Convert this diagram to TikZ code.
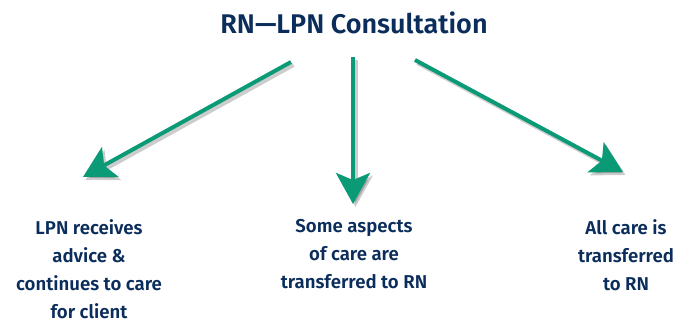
\documentclass[tikz,border=0pt]{standalone}
\usepackage{fontspec}
\setmainfont{Fira Sans}[BoldFont={Fira Sans SemiBold}]
\usepackage{xcolor}
\usetikzlibrary{arrows.meta,calc}
\definecolor{navy}{HTML}{0B2D5B}
\definecolor{teal}{HTML}{0A9A76}

\begin{document}
\begin{tikzpicture}[x=1pt, y=-1pt,
  head/.style={font=\fontsize{27}{30}\selectfont\bfseries, text=navy, inner sep=0pt},
  box/.style={font=\fontsize{18.6}{28}\selectfont\bfseries, text=navy, inner sep=0pt,
              align=center, anchor=north},
  a/.style={-{Stealth[length=31pt, width=34pt, inset=7pt]}, line width=4pt, teal},
  sh/.style={-{Stealth[length=31pt, width=34pt, inset=7pt]}, line width=4pt,
             black, opacity=0.2}]
\useasboundingbox (0,0) rectangle (678,323);

\node[head, anchor=base] (title) at (354,34) {RN---LPN Consultation};

\node[box] (lpn)  at (89,219)  {LPN receives\\advice \&\\continues to care\\for client};
\node[box] (some) at (354,219) {Some aspects\\of care are\\transferred to RN};
\node[box] (all)  at (626,219) {All care is\\transferred\\to RN};

% start and tip of each arrow
\coordinate (s1) at (291,62);  \coordinate (t1) at (83,177);
\coordinate (s2) at (353,57);  \coordinate (t2) at (353,204);
\coordinate (s3) at (415,60);  \coordinate (t3) at (623,172);

% soft shadow first, then the arrows
\foreach \s/\t in {s1/t1, s2/t2, s3/t3}
  \draw[sh] ($(\s)+(2.5,3)$) -- ($(\t)+(2.5,3)$);
\draw[a] (s1) -- (t1);
\draw[a] (s2) -- (t2);
\draw[a] (s3) -- (t3);
\end{tikzpicture}
\end{document}
